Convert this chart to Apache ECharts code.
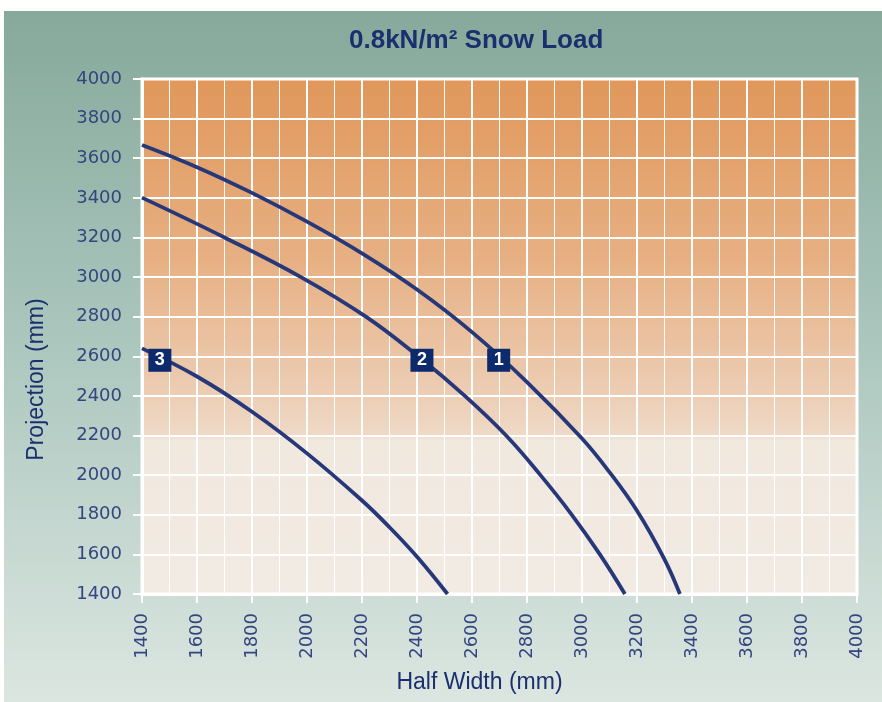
<!DOCTYPE html>
<html>
<head>
<meta charset="utf-8">
<script src="https://cdn.jsdelivr.net/npm/echarts@6/dist/echarts.min.js"></script>
<style>
html,body{margin:0;padding:0;background:#fff;}
#c{width:882px;height:702px;}
</style>
</head>
<body>
<div id="c"></div>
<script>
// ---- data ----
const titleText = '0.8kN/m\u00B2 Snow Load';
const xAxisName = 'Half Width (mm)';
const yAxisName = 'Projection (mm)';
const xMin = 1400, xMax = 4000, xStep = 200;
const yMin = 1400, yMax = 4000, yStep = 200;

const curve1 = [[1400,3667],[1600,3555],[1800,3425],[2000,3280],[2200,3120],[2400,2937],[2600,2722],[2800,2470],[3000,2185],[3100,2015],[3200,1820],[3300,1575],[3356,1400]];
const curve2 = [[1400,3401],[1700,3200],[1978,3000],[2214,2800],[2404,2600],[2574,2400],[2724,2200],[2849,2000],[2963,1800],[3065,1600],[3156,1400]];
const curve3 = [[1400,2640],[1600,2498],[1800,2320],[2000,2110],[2200,1872],[2300,1737],[2400,1588],[2511,1400]];
const curveTags = [[2697,2580,'1'],[2418,2580,'2'],[1465,2580,'3']];

const navy = '#1b2f6e';
const lineColor = '#26387a';
const labelColor = '#34457f';

const chart = echarts.init(document.getElementById('c'), null, {renderer:'canvas'});

function lineSeries(d){
  return {type:'line', data:d, smooth:0.4, showSymbol:false, symbol:'none',
    lineStyle:{color:lineColor, width:3.8}, z:3, silent:true};
}
const plain = v => String(v);

chart.setOption({
  backgroundColor:'#ffffff',
  animation:false,
  graphic:[{
    type:'rect', z:-10, silent:true,
    shape:{x:4, y:11, width:878, height:691},
    style:{fill:new echarts.graphic.LinearGradient(0,0,0,1,[
      {offset:0,color:'#86a99b'},
      {offset:0.5,color:'#adc8bf'},
      {offset:1,color:'#dce6e1'}])}
  }],
  title:{
    text:titleText, left:349, top:28, padding:0,
    textStyle:{fontFamily:'Liberation Sans', fontWeight:'bold', fontSize:26, color:navy}
  },
  grid:{
    left:142, right:25, top:79, bottom:108, show:true,
    borderColor:'#ffffff', borderWidth:3,
    backgroundColor:new echarts.graphic.LinearGradient(0,0,0,1,[
      {offset:0,color:'#e0975a'},
      {offset:0.35,color:'#e7b083'},
      {offset:0.6,color:'#ecccb2'},
      {offset:0.69,color:'#efd9c7'},
      {offset:0.70,color:'#f1e8de'},
      {offset:1,color:'#f2ebe3'}])
  },
  xAxis:{
    type:'value', min:xMin, max:xMax, interval:xStep,
    name:xAxisName, nameLocation:'middle', nameGap:77,
    nameTextStyle:{fontFamily:'Liberation Sans', fontSize:23, color:navy, padding:[0,40,0,0]},
    axisLine:{show:true, lineStyle:{color:'#ffffff', width:3}},
    axisTick:{show:true, inside:false, length:9, lineStyle:{color:'#ffffff', width:2}},
    axisLabel:{rotate:90, margin:19, fontFamily:'DejaVu Sans', fontSize:18, color:labelColor, formatter:plain},
    splitLine:{show:true, lineStyle:{color:'#ffffff', width:2}},
    minorTick:{show:false, splitNumber:2},
    minorSplitLine:{show:true, lineStyle:{color:'#ffffff', width:1}}
  },
  yAxis:{
    type:'value', min:yMin, max:yMax, interval:yStep,
    name:yAxisName, nameLocation:'middle', nameGap:94,
    nameTextStyle:{fontFamily:'Liberation Sans', fontSize:23, color:navy, padding:[0,86,0,0]},
    axisLine:{show:true, lineStyle:{color:'#ffffff', width:3}},
    axisTick:{show:true, inside:false, length:9, lineStyle:{color:'#ffffff', width:2}},
    axisLabel:{margin:20, fontFamily:'DejaVu Sans', fontSize:18, color:labelColor, formatter:plain},
    splitLine:{show:true, lineStyle:{color:'#ffffff', width:2}}
  },
  series:[
    lineSeries(curve1),
    lineSeries(curve2),
    lineSeries(curve3),
    {type:'scatter', data:curveTags, symbol:'rect', symbolSize:23, z:5, silent:true,
     itemStyle:{color:'#0c2a6c', opacity:1},
     label:{show:true, position:'inside', formatter:p=>p.value[2],
       fontFamily:'Liberation Sans', fontWeight:'bold', fontSize:18, color:'#ffffff'}}
  ]
});
</script>
</body>
</html>
